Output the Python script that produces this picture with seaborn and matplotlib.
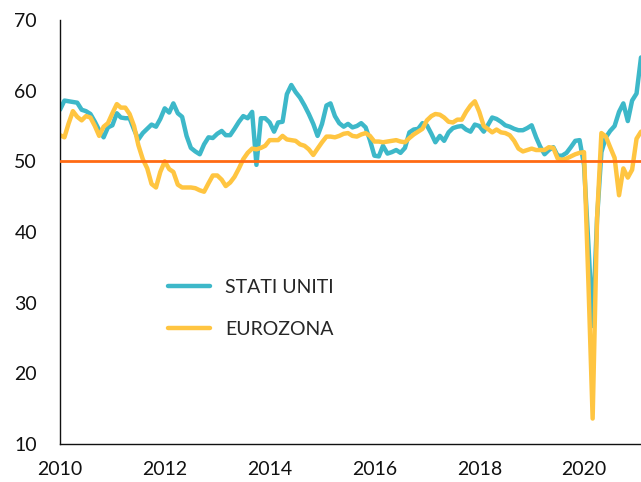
#!/usr/bin/env python3
"""PMI manifatturiero: Stati Uniti vs Eurozona (2010-2021)."""

import pandas as pd
import matplotlib.pyplot as plt
import matplotlib.dates as mdates
import seaborn as sns

# Monthly values, Jan 2010 onward
stati_uniti = [
    57.3, 58.6, 58.5, 58.4, 58.3, 57.3, 57.1, 56.7, 55.6, 54.4, 53.4, 54.8,
    55.1, 56.8, 56.2, 56.1, 56.1, 54.5, 53.1, 54.0, 54.6, 55.2, 54.9, 56.0,
    57.5, 56.9, 58.2, 56.8, 56.3, 53.6, 51.9, 51.4, 51.0, 52.4, 53.4, 53.3,
    53.9, 54.3, 53.7, 53.7, 54.6, 55.6, 56.4, 56.1, 57.0, 49.5, 56.1, 56.1,
    55.5, 54.2, 55.5, 55.6, 59.5, 60.8, 59.8, 59.0, 57.9, 56.7, 55.3, 53.6,
    55.3, 57.9, 58.2, 56.4, 55.4, 54.9, 55.3, 54.8, 55.0, 55.4, 54.8, 53.0,
    50.8, 50.7, 52.2, 51.1, 51.3, 51.6, 51.2, 51.9, 54.1, 54.5, 54.6, 55.4,
    55.1, 53.9, 52.7, 53.6, 52.9, 54.1, 54.7, 54.9, 55.0, 54.5, 54.2, 55.2,
    55.0, 54.2, 55.1, 56.2, 56.0, 55.6, 55.1, 54.9, 54.6, 54.4, 54.4, 54.7,
    55.1, 53.4, 52.1, 51.0, 51.6, 52.0, 50.8, 50.8, 51.2, 52.0, 52.9, 53.0,
    49.5, 38.0, 26.7, 42.0, 51.3, 53.4, 54.3, 55.0, 57.0, 58.2, 55.7, 58.6,
    59.6, 64.7,
]
eurozona = [
    53.7, 53.4, 55.3, 57.1, 56.3, 55.8, 56.4, 56.2, 55.0, 53.6, 54.9, 55.4,
    56.8, 58.1, 57.6, 57.6, 56.7, 55.0, 52.3, 50.3, 49.0, 46.8, 46.3, 48.5,
    50.0, 48.9, 48.5, 46.7, 46.3, 46.3, 46.3, 46.2, 45.9, 45.7, 46.9, 48.0,
    48.0, 47.4, 46.5, 47.0, 47.8, 49.0, 50.3, 51.2, 51.8, 51.7, 51.9, 52.2,
    53.0, 53.0, 53.0, 53.6, 53.1, 53.0, 52.9, 52.4, 52.2, 51.7, 50.9, 51.8,
    52.7, 53.5, 53.5, 53.4, 53.6, 53.9, 54.0, 53.6, 53.5, 53.8, 54.0, 53.6,
    52.8, 52.8, 52.7, 52.8, 52.9, 53.0, 52.8, 52.7, 53.3, 53.8, 54.2, 54.6,
    55.8, 56.4, 56.7, 56.6, 56.2, 55.6, 55.5, 55.9, 55.9, 57.0, 57.9, 58.5,
    57.0, 55.0, 54.6, 54.1, 54.5, 54.1, 54.0, 53.7, 52.9, 51.8, 51.4, 51.6,
    51.8, 51.6, 51.6, 51.6, 52.0, 51.9, 50.4, 50.2, 50.4, 50.7, 51.0, 51.2,
    51.3, 32.5, 13.6, 42.0, 54.0, 53.5, 52.0, 50.5, 45.2, 49.0, 47.7, 48.8,
    53.2, 54.2,
]
series_names = ['STATI UNITI', 'EUROZONA']
year_ticks = [2010, 2012, 2014, 2016, 2018, 2020]
y_ticks = [10, 20, 30, 40, 50, 60, 70]

dates = pd.date_range('2010-01-01', periods=len(stati_uniti), freq='MS')
df = pd.concat([
    pd.DataFrame({'data': dates, 'valore': stati_uniti, 'serie': series_names[0]}),
    pd.DataFrame({'data': dates, 'valore': eurozona, 'serie': series_names[1]}),
])

sns.set_style('white')
plt.rcParams['font.family'] = ['Lato', 'DejaVu Sans']

fig = plt.figure(figsize=(6.41, 4.82), dpi=100)
ax = fig.add_axes([60 / 641, 1 - 444 / 482, 581 / 641, 424 / 482])

palette = {'STATI UNITI': '#3DB8C9', 'EUROZONA': '#FFC541'}
sns.lineplot(data=df, x='data', y='valore', hue='serie', palette=palette,
             linewidth=3.2, ax=ax)
ax.axhline(50, color='#FF6A13', linewidth=2, zorder=3)

ax.set_xlim(dates[0], dates[-1])
ax.set_ylim(10, 70)
ax.set_yticks(y_ticks)
ax.set_xticks([pd.Timestamp(f'{y}-01-01') for y in year_ticks])
ax.xaxis.set_major_formatter(mdates.DateFormatter('%Y'))
ax.set_xlabel('')
ax.set_ylabel('')
ax.tick_params(axis='both', length=0, labelsize=14, colors='#111111')
ax.tick_params(axis='y', pad=16.5)
ax.tick_params(axis='x', pad=12)

sns.despine(ax=ax)
for side in ['left', 'bottom']:
    ax.spines[side].set_color('#111111')
    ax.spines[side].set_linewidth(1.0)

ax.legend(title=None, frameon=False, loc='center left',
          bbox_to_anchor=(0.186, 0.32), borderpad=0, borderaxespad=0,
          handlelength=2.15, handletextpad=0.8, labelspacing=1.3,
          fontsize=14)

fig.savefig('out.png', dpi=100)
plt.close(fig)
